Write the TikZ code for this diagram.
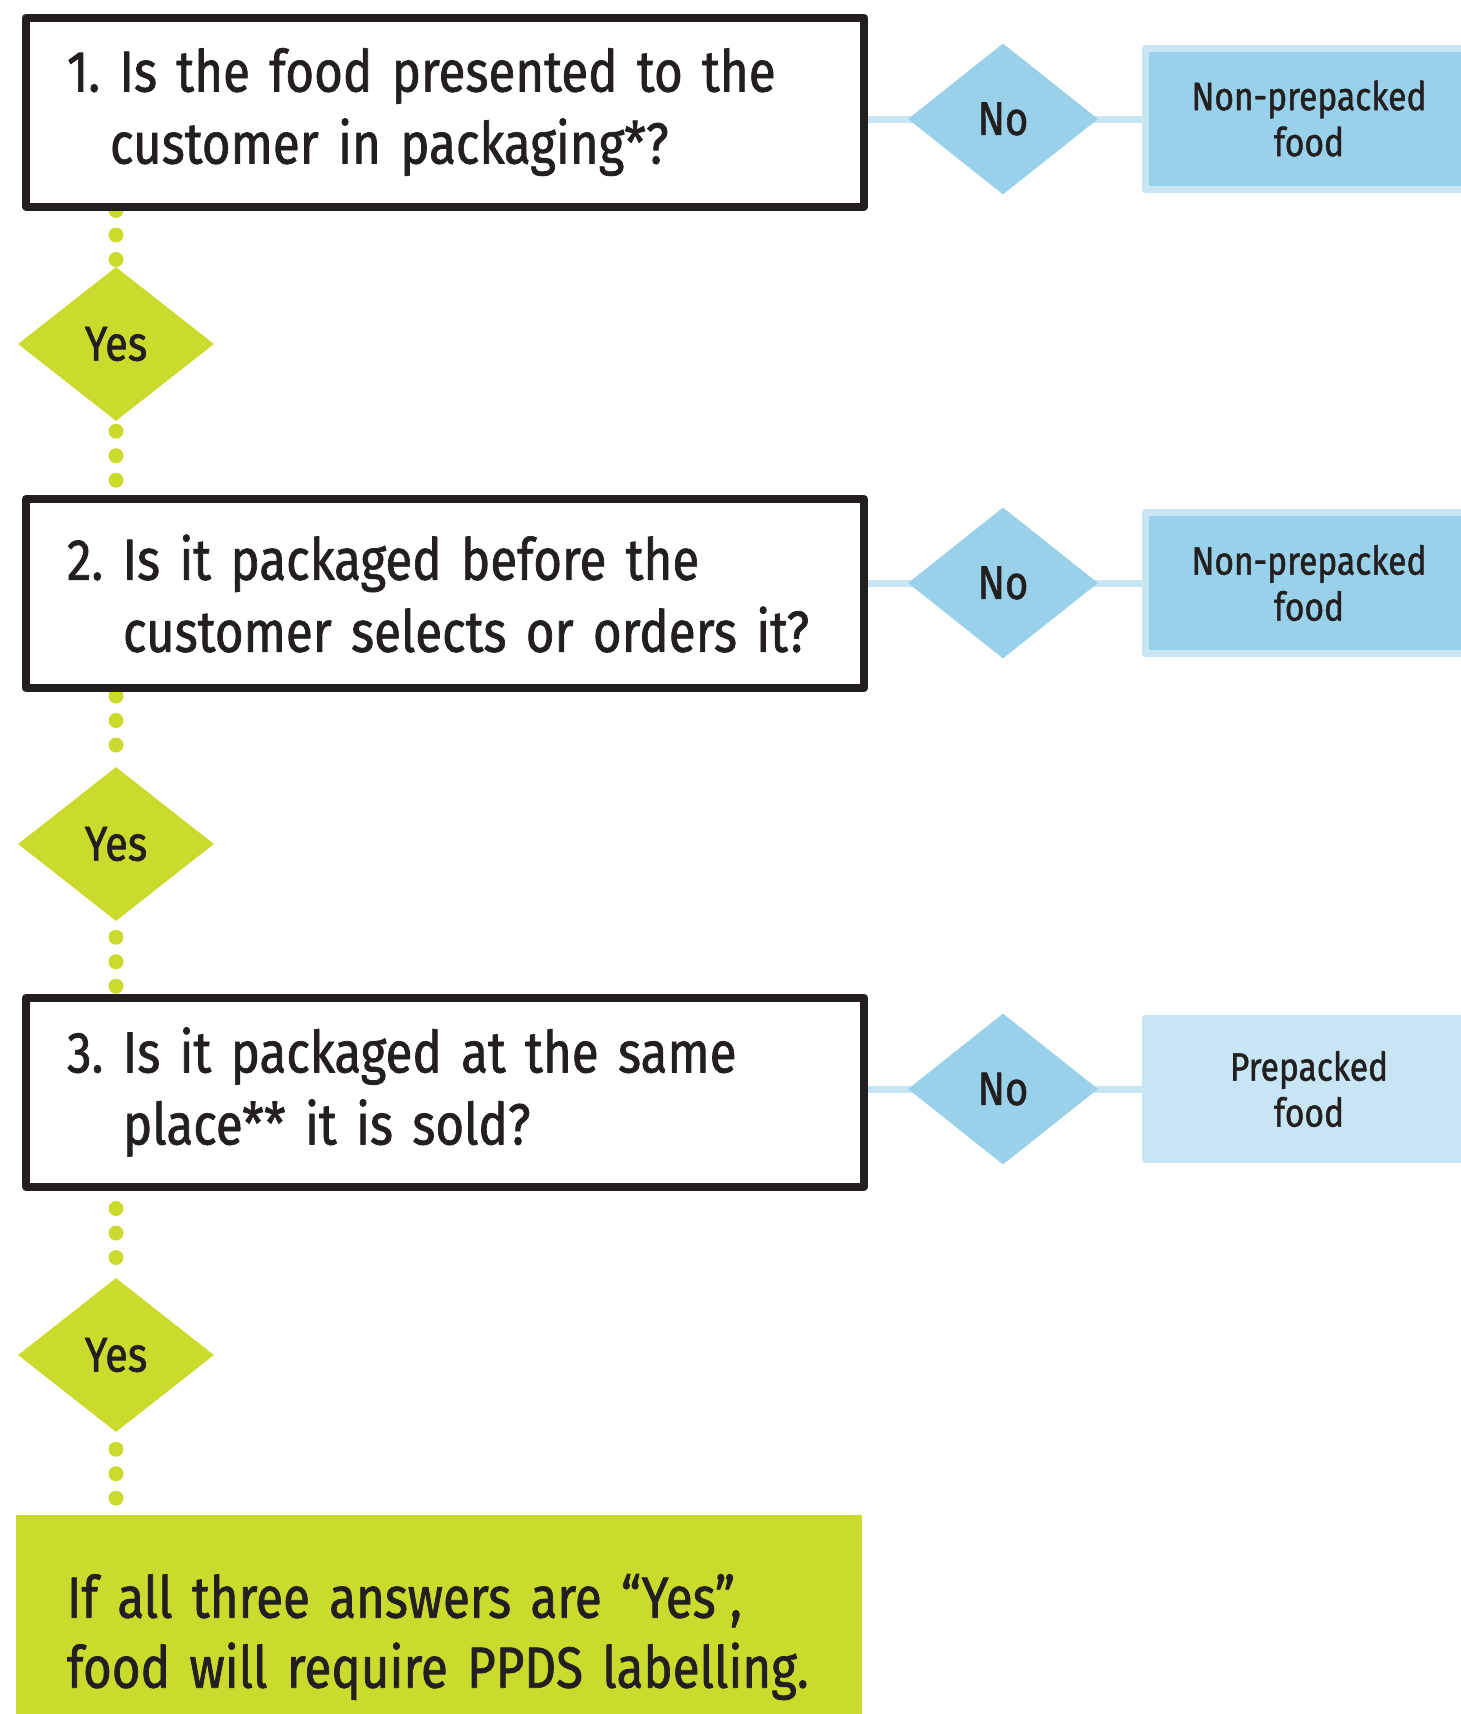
\documentclass[tikz,border=0pt]{standalone}
\usepackage{fontspec}
\setmainfont{Fira Sans}[FakeStretch=0.85, FakeBold=1.2, WordSpace=0.7]
\frenchspacing
\usetikzlibrary{shapes,backgrounds}

\definecolor{inkblack}{RGB}{35,31,32}
\definecolor{yesgreen}{RGB}{203,219,46}
\definecolor{noblue}{RGB}{153,208,234}
\definecolor{paleblue}{RGB}{200,229,243}

\begin{document}
\begin{tikzpicture}[x=1pt, y=-1pt, line join=round, text=inkblack,
  question/.style={draw=inkblack, fill=white, line width=8pt, minimum width=838pt, minimum height=189pt,
    text width=776pt, inner xsep=31pt, align=left, font=\fontsize{58}{72}\selectfont,
    execute at begin node=\hspace*{10pt}},
  yes/.style={diamond, fill=yesgreen, minimum width=196pt, minimum height=154pt, inner sep=0pt,
    font=\fontsize{49}{52}\selectfont},
  no/.style={diamond, fill=noblue, minimum width=190pt, minimum height=151pt, inner sep=0pt,
    font=\fontsize{47}{50}\selectfont},
  answer/.style={fill=noblue, draw=paleblue, line width=7pt, minimum width=327pt, minimum height=141pt,
    align=center, font=\fontsize{39.5}{46}\selectfont},
  link/.style={paleblue, line width=7pt},
  dots/.style={yesgreen, line width=15pt, line cap=round, dash pattern=on 0pt off 24.5pt}]
\useasboundingbox (0,0) rectangle (1461,1714);
\clip (0,0) rectangle (1461,1714);

% questions
\node[question] (q1) at (445,112)    {1. Is the food presented to the\\\hspace*{53pt}customer in packaging*?};
\node[question] (q2) at (445,593.5)  {2. Is it packaged before the\\\hspace*{66pt}customer selects or orders it?};
\node[question] (q3) at (445,1092)   {3. Is it packaged at the same\\\hspace*{66pt}place** it is sold?};

% yes / no
\node[yes] (yes1) at (116,344)  {Yes};
\node[yes] (yes2) at (116,844)  {Yes};
\node[yes] (yes3) at (116,1355) {Yes};
\node[no]  (no1)  at (1003,119)  {No};
\node[no]  (no2)  at (1003,583)  {No};
\node[no]  (no3)  at (1003,1089) {No};

% outcomes
\node[answer] (np1) at (1309,118.5) {Non-prepacked\\food};
\node[answer] (np2) at (1309,583)   {Non-prepacked\\food};
\node[answer, fill=paleblue] (pp3) at (1309,1089) {Prepacked\\food};
\node[fill=yesgreen, minimum width=846pt, minimum height=244pt, text width=784pt, inner xsep=31pt,
  align=left, font=\fontsize{58}{70}\selectfont, execute at begin node=\hspace*{20pt}] (ppds) at (439,1637)
  {If all three answers are “Yes”,\\\hspace*{20pt}food will require PPDS labelling.};

\begin{scope}[on background layer]
\draw[link] (q1.east |- no1) -- (np1.west |- no1);
\draw[link] (q2.east |- no2) -- (np2.west |- no2);
\draw[link] (q3.east |- no3) -- (pp3.west |- no3);
\draw[dots] (yes1 |- q1.south) -- (yes1.north);
\draw[dots] ([yshift=-10pt]yes1.south) -- (yes1 |- q2.north);
\draw[dots] ([yshift=-4pt]yes2 |- q2.south) -- (yes2.north);
\draw[dots] ([yshift=-16pt]yes2.south) -- (yes2 |- q3.north);
\draw[dots] ([yshift=-18pt]yes3 |- q3.south) -- (yes3.north);
\draw[dots] ([yshift=-17pt]yes3.south) -- (yes3 |- ppds.north);
\end{scope}
\end{tikzpicture}
\end{document}
